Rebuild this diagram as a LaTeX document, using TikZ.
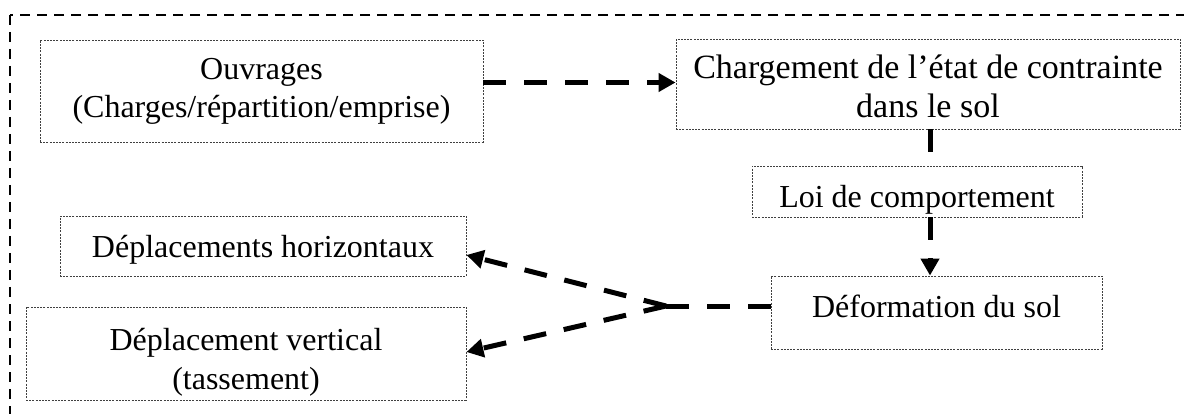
\documentclass[tikz,border=0pt]{standalone}
\usepackage{fontspec}
\setmainfont{Liberation Serif}
\usetikzlibrary{arrows.meta,calc}
\newcommand{\lines}[1]{\begin{tabular}[t]{@{}c@{}}#1\end{tabular}}
\begin{document}
\begin{tikzpicture}[x=1pt,y=-1pt,
  box/.style={draw=black!75, line width=0.9pt, dash pattern=on 2pt off 1.2pt, rectangle, inner sep=0pt,
    anchor=base, font=\fontsize{32}{39}\selectfont},
  conn/.style={line width=5pt, dash pattern=on 23pt off 18pt, -{Triangle[length=17pt,width=18pt]}},
  connplain/.style={line width=5pt, dash pattern=on 23pt off 18pt},
  frame/.style={line width=2pt, dash pattern=on 10pt off 7pt}]
\useasboundingbox (0,0) rectangle (1184,414);
\begin{scope}
\clip (0,0) rectangle (1184,414);
\draw[frame] (10,15) rectangle (1210,440);
\end{scope}
\node[box, minimum width=443pt, text height=40pt, text depth=62pt, font=\fontsize{32}{38}\selectfont] (ouv) at (261.5,80)
  {\lines{Ouvrages\\(Charges/répartition/emprise)}};
\node[box, minimum width=504pt, text height=40pt, text depth=50pt, font=\fontsize{34}{39}\selectfont] (charg) at (928,79)
  {\lines{Chargement de l’état de contrainte\\dans le sol}};
\node[box, minimum width=330pt, text height=42pt, text depth=9pt] (loi) at (917,208) {Loi de comportement};
\node[box, minimum width=331pt, text height=41pt, text depth=32pt] (def) at (936.5,317) {Déformation du sol};
\node[box, minimum width=406pt, text height=42pt, text depth=18pt] (hor) at (263,258) {Déplacements horizontaux};
\node[box, minimum width=440pt, text height=43pt, text depth=50pt] (ver) at (246,350)
  {\lines{Déplacement vertical\\(tassement)}};
\coordinate (vx) at (930,0);
\coordinate (ay) at (0,82.5);
\coordinate (J) at (666,306);
\draw[conn] (ouv.east |- ay) -- (charg.west |- ay);
\draw[connplain] (charg.south -| vx) -- (loi.north -| vx);
\draw[conn] (loi.south -| vx) -- (def.north -| vx);
\draw[connplain] (def.west |- J) -- (J);
\draw[conn] (J) -- ($(hor.east)+(0,9)$);
\draw[conn] (J) -- ($(ver.east)+(0,-1.5)$);
\end{tikzpicture}
\end{document}
